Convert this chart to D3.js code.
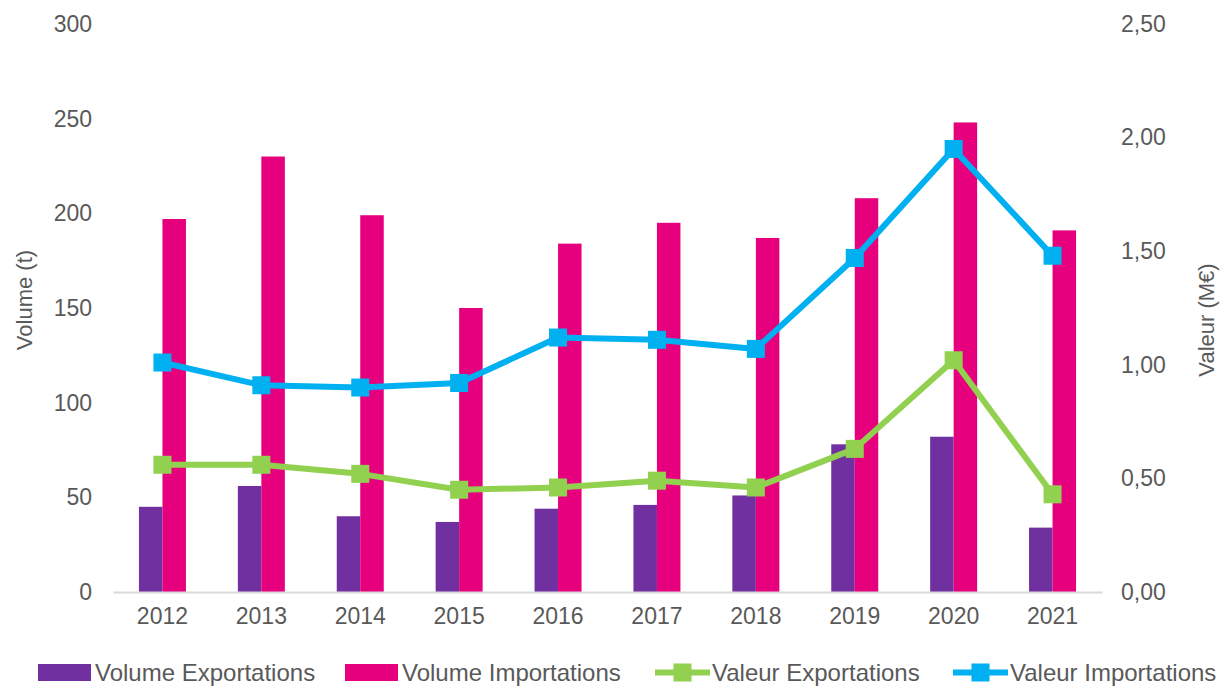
<!DOCTYPE html>
<html>
<head>
<meta charset="utf-8">
<script src="https://cdn.jsdelivr.net/npm/d3@7"></script>
<style>
  body { margin: 0; background: #fff; }
  svg { font-family: "Liberation Sans", Arial, sans-serif; display: block; }
</style>
</head>
<body>
<svg id="container"></svg>
<script>
// data
const years = ["2012", "2013", "2014", "2015", "2016", "2017", "2018", "2019", "2020", "2021"];
const volumeExports = [45, 56, 40, 37, 44, 46, 51, 78, 82, 34];
const volumeImports = [197, 230, 199, 150, 184, 195, 187, 208, 248, 191];
const valueExports = [0.56, 0.56, 0.52, 0.45, 0.46, 0.49, 0.46, 0.63, 1.02, 0.43];
const valueImports = [1.01, 0.91, 0.90, 0.92, 1.12, 1.11, 1.07, 1.47, 1.95, 1.48];
const leftTicks = [0, 50, 100, 150, 200, 250, 300];
const rightTicks = [0, 0.5, 1, 1.5, 2, 2.5];

let width = 1221, height = 686;
var margin = {top: 24, right: 119, bottom: 94, left: 113};

const colors = {volExp: "#7030A0", volImp: "#E6007E", valExp: "#92D050", valImp: "#00B0F0"};
const textColor = "#595959";
const font = "Liberation Sans, Arial, sans-serif";

let svg = d3.select("#container")
    .attr("width", width)
    .attr("height", height);

// x scale for year groups
const xScale = d3.scaleBand()
    .domain(years)
    .range([margin.left, width - margin.right]);

// two bars per group
const xInner = d3.scaleBand()
    .domain(["exp", "imp"])
    .range([xScale.bandwidth() / 2 - 23.5, xScale.bandwidth() / 2 + 23.5]);

const yLeft = d3.scaleLinear()
    .domain([0, 300])
    .range([height - margin.bottom, margin.top]);

const yRight = d3.scaleLinear()
    .domain([0, 2.5])
    .range([height - margin.bottom, margin.top]);

// left axis labels
let leftAxis = svg.append("g")
    .attr("transform", "translate(" + (margin.left - 21) + ",0)")
    .call(d3.axisLeft(yLeft).tickValues(leftTicks).tickSize(0).tickPadding(0));
leftAxis.select(".domain").remove();
leftAxis.selectAll("text")
    .style("font-size", "23px")
    .attr("fill", textColor)
    .attr("font-family", font);

// right axis labels
let rightAxis = svg.append("g")
    .attr("transform", "translate(" + (width - margin.right + 19) + ",0)")
    .call(d3.axisRight(yRight).tickValues(rightTicks).tickSize(0).tickPadding(0)
        .tickFormat(d => d3.format(".2f")(d).replace(".", ",")));
rightAxis.select(".domain").remove();
rightAxis.selectAll("text")
    .style("font-size", "23px")
    .attr("fill", textColor)
    .attr("font-family", font);

// bars
const bars = svg.append("g");
years.forEach((year, i) => {
    bars.append("rect")
        .attr("x", xScale(year) + xInner("exp"))
        .attr("y", yLeft(volumeExports[i]))
        .attr("width", xInner.bandwidth())
        .attr("height", yLeft(0) - yLeft(volumeExports[i]))
        .attr("fill", colors.volExp);
    bars.append("rect")
        .attr("x", xScale(year) + xInner("imp"))
        .attr("y", yLeft(volumeImports[i]))
        .attr("width", xInner.bandwidth())
        .attr("height", yLeft(0) - yLeft(volumeImports[i]))
        .attr("fill", colors.volImp);
});

// x axis
let xAxis = svg.append("g")
    .attr("transform", "translate(0," + (height - margin.bottom) + ")")
    .call(d3.axisBottom(xScale).tickSize(0).tickPadding(16));
xAxis.select(".domain")
    .attr("stroke", "#D9D9D9")
    .attr("stroke-width", 2);
xAxis.selectAll("text")
    .style("font-size", "23px")
    .attr("fill", textColor)
    .attr("font-family", font);

// lines with square markers
function drawLine(values, color) {
    const line = d3.line()
        .x((d, i) => xScale(years[i]) + xScale.bandwidth() / 2)
        .y(d => yRight(d));
    svg.append("path")
        .datum(values)
        .attr("d", line)
        .attr("fill", "none")
        .attr("stroke", color)
        .attr("stroke-width", 6)
        .attr("stroke-linejoin", "round");
    svg.append("g")
        .selectAll("rect")
        .data(values)
        .enter()
        .append("rect")
            .attr("x", (d, i) => xScale(years[i]) + xScale.bandwidth() / 2 - 9)
            .attr("y", d => yRight(d) - 9)
            .attr("width", 18)
            .attr("height", 18)
            .attr("fill", color);
}
drawLine(valueExports, colors.valExp);
drawLine(valueImports, colors.valImp);

// axis titles
svg.append("text")
    .attr("transform", "translate(32,300) rotate(-90)")
    .attr("text-anchor", "middle")
    .style("font-size", "22px")
    .attr("fill", textColor)
    .text("Volume (t)");

svg.append("text")
    .attr("transform", "translate(1214,320) rotate(-90)")
    .attr("text-anchor", "middle")
    .style("font-size", "22px")
    .attr("fill", textColor)
    .text("Valeur (M€)");

// legend
const legendItems = [
    {label: "Volume Exportations", color: colors.volExp, type: "bar", x: 38},
    {label: "Volume Importations", color: colors.volImp, type: "bar", x: 345},
    {label: "Valeur Exportations", color: colors.valExp, type: "line", x: 655},
    {label: "Valeur Importations", color: colors.valImp, type: "line", x: 953}
];
const legend = svg.append("g");
legendItems.forEach(item => {
    if (item.type === "bar") {
        legend.append("rect")
            .attr("x", item.x)
            .attr("y", 664)
            .attr("width", 53)
            .attr("height", 17)
            .attr("fill", item.color);
    } else {
        legend.append("line")
            .attr("x1", item.x)
            .attr("x2", item.x + 55)
            .attr("y1", 672.5)
            .attr("y2", 672.5)
            .attr("stroke", item.color)
            .attr("stroke-width", 6);
        legend.append("rect")
            .attr("x", item.x + 27.5 - 9)
            .attr("y", 672.5 - 9)
            .attr("width", 18)
            .attr("height", 18)
            .attr("fill", item.color);
    }
    legend.append("text")
        .attr("x", item.x + 57)
        .attr("y", 672.5)
        .attr("dy", "0.35em")
        .style("font-size", "24px")
        .attr("fill", textColor)
        .text(item.label);
});
</script>
</body>
</html>
